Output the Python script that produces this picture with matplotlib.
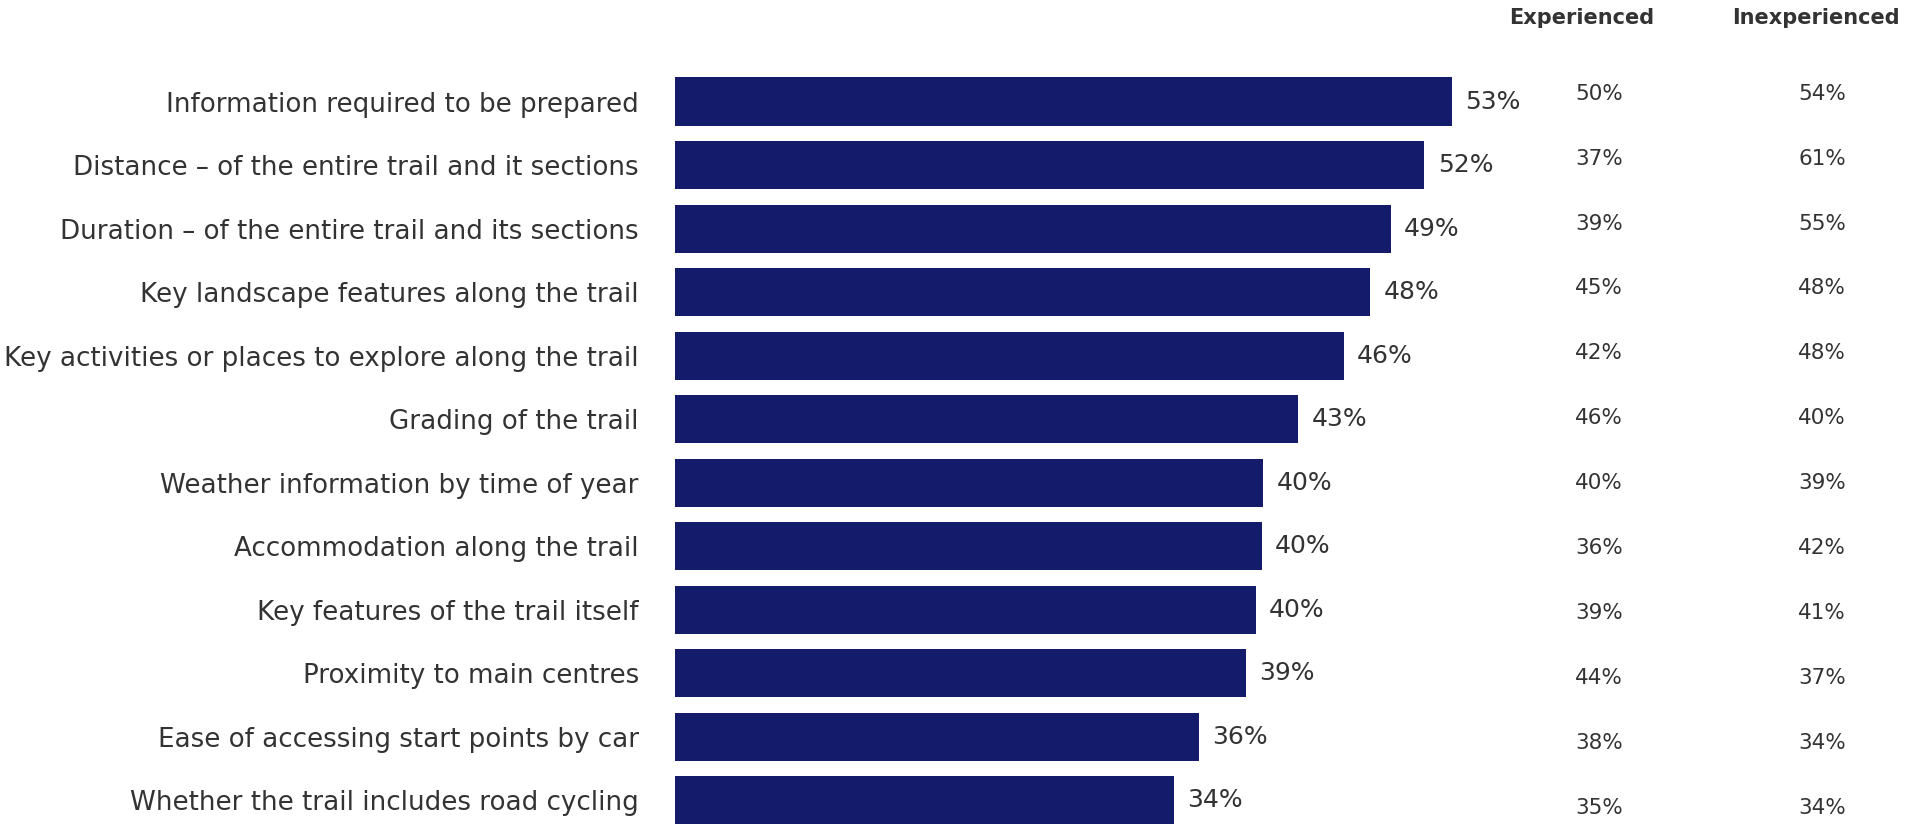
import matplotlib
matplotlib.use("Agg")
import matplotlib.pyplot as plt
import numpy as np

categories = [
    "Information required to be prepared",
    "Distance \u2013 of the entire trail and it sections",
    "Duration \u2013 of the entire trail and its sections",
    "Key landscape features along the trail",
    "Key activities or places to explore along the trail",
    "Grading of the trail",
    "Weather information by time of year",
    "Accommodation along the trail",
    "Key features of the trail itself",
    "Proximity to main centres",
    "Ease of accessing start points by car",
    "Whether the trail includes road cycling",
]
# bar lengths as drawn (unrounded), and the printed labels
total = [53.0, 51.1, 48.8, 47.4, 45.6, 42.5, 40.1, 40.0, 39.6, 38.9, 35.7, 34.0]
total_labels = ["53%", "52%", "49%", "48%", "46%", "43%", "40%", "40%", "40%", "39%", "36%", "34%"]
experienced = [50, 37, 39, 45, 42, 46, 40, 36, 39, 44, 38, 35]
inexperienced = [54, 61, 55, 48, 48, 40, 39, 42, 41, 37, 34, 34]
col_headers = ["Experienced", "Inexperienced"]

navy = "#141b6b"
txt = "#333333"

fig = plt.figure(figsize=(19.07, 8.27), dpi=100)
ax = fig.add_axes([0.354, 0.0, 0.646, 1.0])

y = np.arange(len(categories))
ax.barh(y, total, height=0.76, color=navy)
ax.set_xlim(0, 84)
ax.set_ylim(11.42, -1.6)

ax.set_yticks(y)
ax.set_yticklabels(categories, fontsize=18.8, color=txt)
ax.tick_params(axis="y", length=0, pad=26)
ax.set_xticks([])
for s in ax.spines.values():
    s.set_visible(False)

for yi, v, lab in zip(y, total, total_labels):
    ax.text(v + 0.9, yi, lab, va="center", ha="left", fontsize=18, color=txt)

# side table (rows sit on a slightly wider pitch than the bars)
ty = -0.126 + y * 1.0226
for yi, e, n in zip(ty, experienced, inexperienced):
    ax.text(63.0, yi, f"{e}%", va="center", ha="center", fontsize=15.5, color=txt, clip_on=False)
    ax.text(78.2, yi, f"{n}%", va="center", ha="center", fontsize=15.5, color=txt, clip_on=False)

ax.text(61.8, -1.317, col_headers[0], va="center", ha="center", fontsize=15,
        fontweight="bold", color=txt)
ax.text(77.8, -1.317, col_headers[1], va="center", ha="center", fontsize=15,
        fontweight="bold", color=txt)

fig.savefig("out.png", dpi=100)
